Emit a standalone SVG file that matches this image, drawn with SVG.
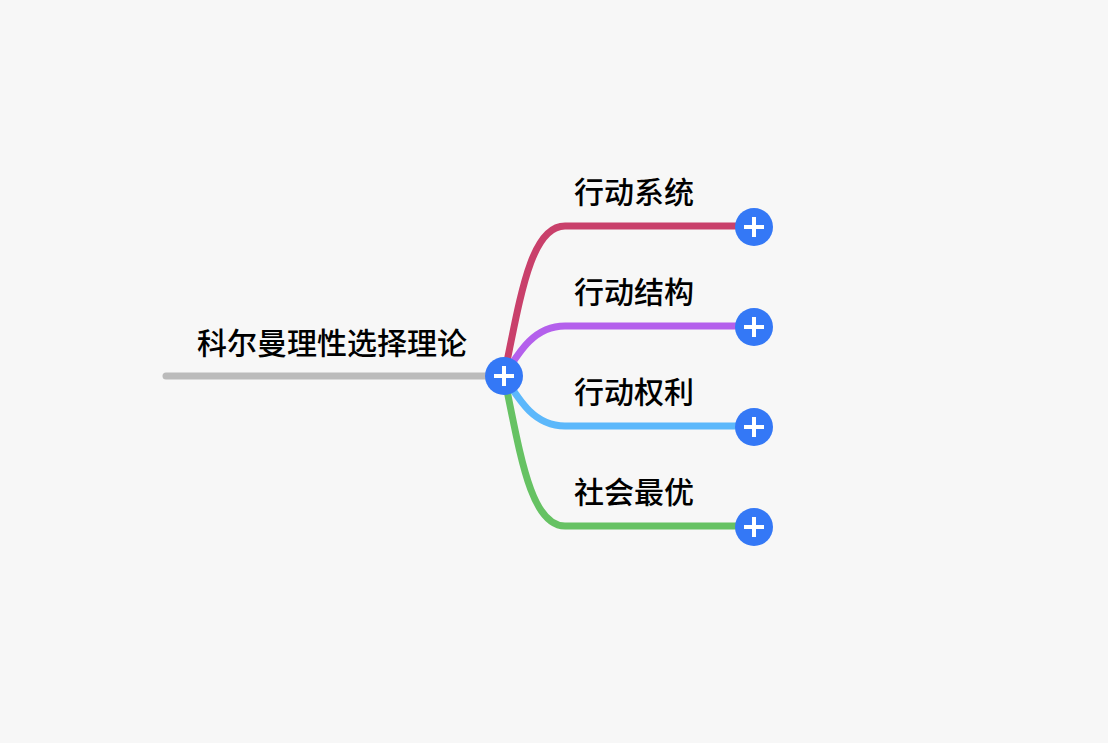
<svg xmlns="http://www.w3.org/2000/svg" width="1108" height="743" viewBox="0 0 1108 743">
<style>
text{font-family:"Noto Sans CJK SC","Liberation Sans",sans-serif;font-size:30px;fill:#000;font-weight:500}
.l{fill:none;stroke-width:7;stroke-linecap:round}
.b{fill:#3478f6}
.p{stroke:#fff;stroke-width:4}
</style>
<rect width="1108" height="743" fill="#f7f7f7"/>
<g id="connectors">
<path class="l" stroke="#bbbbbb" d="M166 376H504"/>
<path class="l" stroke="#c9406b" d="M504 376C520 300 530 226 565 226H754"/>
<path class="l" stroke="#b460ec" d="M504 376C520 350 535 326 565 326H754"/>
<path class="l" stroke="#5cb8fb" d="M504 376C520 402 535 426 565 426H754"/>
<path class="l" stroke="#66c263" d="M504 376C520 452 530 526 565 526H754"/>
</g>
<defs><g id="btn"><circle r="19" class="b"/><path class="p" d="M-10 0H10M0 -10V10"/></g></defs>
<g id="root"><text x="197" y="354">科尔曼理性选择理论</text><use href="#btn" x="504" y="376"/></g>
<g id="n1"><text x="574" y="203">行动系统</text><use href="#btn" x="754" y="227"/></g>
<g id="n2"><text x="574" y="303">行动结构</text><use href="#btn" x="754" y="327"/></g>
<g id="n3"><text x="574" y="403">行动权利</text><use href="#btn" x="754" y="427"/></g>
<g id="n4"><text x="574" y="503">社会最优</text><use href="#btn" x="754" y="527"/></g>
</svg>
